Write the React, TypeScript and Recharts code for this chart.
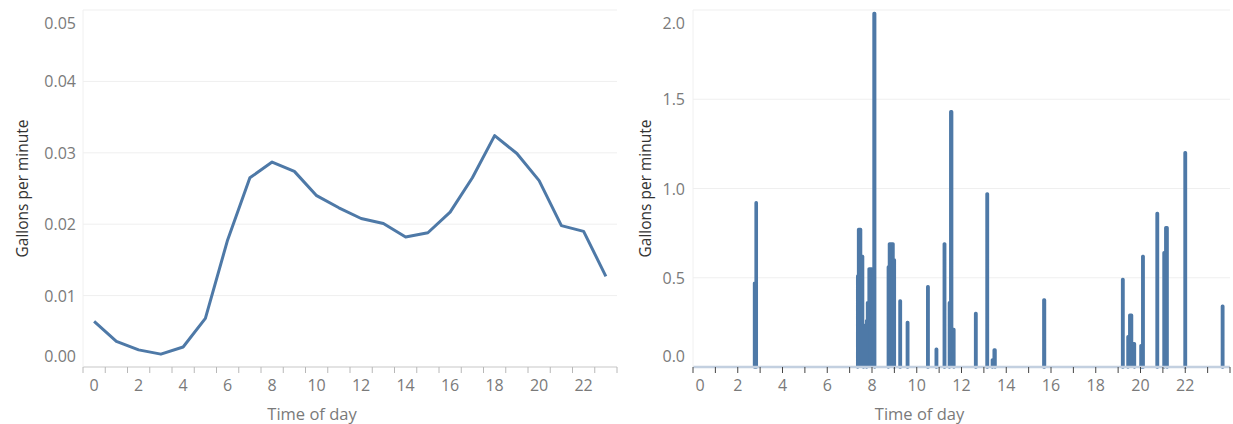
import React from "react";
import { LineChart, Line, AreaChart, Area, XAxis, YAxis, CartesianGrid } from "recharts";

// left panel: average flow per hour of day
const hours = [0, 1, 2, 3, 4, 5, 6, 7, 8, 9, 10, 11, 12, 13, 14, 15, 16, 17, 18, 19, 20, 21, 22, 23];
const avgFlow = [
  0.0064, 0.0036, 0.0024, 0.0018, 0.0028, 0.0068, 0.0178, 0.0265, 0.0287, 0.0274, 0.024, 0.0223,
  0.0208, 0.0201, 0.0182, 0.0188, 0.0217, 0.0265, 0.0324, 0.0299, 0.0261, 0.0198, 0.019, 0.0127,
];
const hourBounds = [
  -0.5, 0.5, 1.5, 2.5, 3.5, 4.5, 5.5, 6.5, 7.5, 8.5, 9.5, 10.5, 11.5, 12.5, 13.5, 14.5, 15.5, 16.5,
  17.5, 18.5, 19.5, 20.5, 21.5, 22.5, 23.5,
];
const hourLabels = [0, 2, 4, 6, 8, 10, 12, 14, 16, 18, 20, 22];
const avgTicks = [0, 0.01, 0.02, 0.03, 0.04, 0.05];

// right panel: flow bursts over one day, each burst is [time (h), level] steps ending at 0
const flowBursts = [
  [[2.75, 0.47], [2.82, 0.92], [2.83, 0]],
  [[7.36, 0.51], [7.4, 0.77], [7.49, 0.62], [7.58, 0.235], [7.62, 0]],
  [[7.76, 0.26], [7.8, 0.36], [7.87, 0.55], [7.99, 0.22], [8.09, 1.98], [8.12, 0]],
  [[8.73, 0.56], [8.78, 0.69], [8.94, 0.6], [9.0, 0]],
  [[9.25, 0.37], [9.27, 0]],
  [[9.58, 0.25], [9.6, 0]],
  [[10.49, 0.45], [10.51, 0]],
  [[10.87, 0.1], [10.89, 0]],
  [[11.23, 0.69], [11.25, 0]],
  [[11.46, 0.36], [11.52, 1.43], [11.56, 0.21], [11.66, 0]],
  [[12.63, 0.3], [12.65, 0]],
  [[13.14, 0.97], [13.16, 0]],
  [[13.38, 0.04], [13.46, 0.095], [13.5, 0]],
  [[15.68, 0.375], [15.71, 0]],
  [[19.2, 0.49], [19.22, 0]],
  [[19.44, 0.17], [19.52, 0.29], [19.6, 0.13], [19.73, 0]],
  [[20.02, 0.12], [20.1, 0.62], [20.12, 0]],
  [[20.74, 0.86], [20.76, 0]],
  [[21.05, 0.64], [21.13, 0.78], [21.19, 0]],
  [[21.99, 1.2], [22.01, 0]],
  [[23.66, 0.34], [23.68, 0]],
];
const dayTicks = [0, 1, 2, 3, 4, 5, 6, 7, 8, 9, 10, 11, 12, 13, 14, 15, 16, 17, 18, 19, 20, 21, 22, 23, 24];
const flowTicks = [0, 0.5, 1.0, 1.5, 2.0];

const BLUE = "#4e79a7";
const TICK_COLOR = "#7a7a7a";
const FONT = "'Open Sans', sans-serif";

const avgData = hours.map((h, i) => ({ hour: h, flow: avgFlow[i] }));

const burstData: { t: number; v: number | null }[] = [];
flowBursts.forEach((burst) => {
  let prev = 0;
  burst.forEach(([t, level]) => {
    burstData.push({ t, v: prev });
    burstData.push({ t, v: level });
    prev = level;
  });
  burstData.push({ t: burst[burst.length - 1][0], v: null });
});

const leftXTicks = [...hourBounds, ...hourLabels].sort((a, b) => a - b);

const LeftXTick = (props: any) => {
  const { x, y, payload } = props;
  const v = payload.value;
  if (!Number.isInteger(v)) {
    return <line x1={x} x2={x} y1={y} y2={y + 6} stroke="#b8b8b8" strokeWidth={1} />;
  }
  if (v % 2 !== 0) return <g />;
  return (
    <text x={x} y={y + 18} textAnchor="middle" dominantBaseline="central" fill={TICK_COLOR} fontSize={16}>
      {v}
    </text>
  );
};

const RightXTick = (props: any) => {
  const { x, y, payload } = props;
  const v = payload.value;
  return (
    <g>
      <line x1={x} x2={x} y1={y} y2={y + 6} stroke="#444" strokeWidth={1} />
      {v % 2 === 0 && v < 24 ? (
        <text x={v === 0 ? x + 7 : x} y={y + 18} textAnchor="middle" dominantBaseline="central" fill={TICK_COLOR} fontSize={16}>
          {v}
        </text>
      ) : null}
    </g>
  );
};

const makeYTick = (max: number, digits: number) => (props: any) => {
  const { x, y, payload } = props;
  const v = payload.value;
  const dy = v === max ? 13 : v === 0 ? -11 : 0;
  return (
    <text x={x} y={y + dy} textAnchor="end" dominantBaseline="central" fill={TICK_COLOR} fontSize={16}>
      {v.toFixed(digits)}
    </text>
  );
};

const yTitle = (offset: number) => ({
  value: "Gallons per minute",
  angle: -90,
  position: "insideLeft" as const,
  offset,
  style: { textAnchor: "middle", fill: "#333", fontSize: 15.5 },
});

const xTitle = (dx: number) => ({
  value: "Time of day",
  position: "insideBottom" as const,
  offset: 4,
  dx,
  style: { fill: TICK_COLOR, fontSize: 16.5 },
});

export default function App() {
  return (
    <div style={{ position: "absolute", left: 0, top: 0, width: 1233, height: 424, fontFamily: FONT, background: "#fff" }}>
      <div style={{ position: "absolute", left: 0, top: 0 }}>
        <LineChart width={620} height={424} data={avgData} margin={{ top: 10, right: 3, left: 0, bottom: 0 }}>
          <CartesianGrid vertical={false} stroke="#efefef" />
          <XAxis
            dataKey="hour"
            type="number"
            domain={[-0.5, 23.5]}
            ticks={leftXTicks}
            interval={0}
            height={57}
            tickSize={0}
            tickMargin={0}
            tickLine={false}
            tick={LeftXTick}
            axisLine={{ stroke: "#cfcfcf" }}
            label={xTitle(-38)}
          />
          <YAxis
            domain={[0, 0.05]}
            ticks={avgTicks}
            width={83}
            tickSize={0}
            tickMargin={7}
            tickLine={false}
            axisLine={{ stroke: "#f0f0f0" }}
            tick={makeYTick(0.05, 2)}
            label={yTitle(22)}
          />
          <Line type="linear" dataKey="flow" stroke={BLUE} strokeWidth={3} dot={false} strokeLinejoin="round" isAnimationActive={false} />
        </LineChart>
      </div>
      <div style={{ position: "absolute", left: 618, top: 0 }}>
        <AreaChart width={615} height={424} data={burstData} margin={{ top: 10, right: 3, left: 0, bottom: 0 }}>
          <CartesianGrid vertical={false} stroke="#efefef" />
          <XAxis
            dataKey="t"
            type="number"
            domain={[0, 24]}
            ticks={dayTicks}
            interval={0}
            height={57}
            tickSize={0}
            tickMargin={0}
            tickLine={false}
            tick={RightXTick}
            axisLine={{ stroke: "#c3d0e0", strokeWidth: 2.5 }}
            label={xTitle(-42)}
          />
          <YAxis
            domain={[0, 2]}
            ticks={flowTicks}
            width={75}
            tickSize={0}
            tickMargin={8}
            tickLine={false}
            axisLine={{ stroke: "#f0f0f0" }}
            tick={makeYTick(2, 1)}
            label={yTitle(27)}
          />
          <Area
            type="linear"
            dataKey="v"
            stroke={BLUE}
            strokeWidth={3.4}
            strokeLinejoin="round"
            strokeLinecap="round"
            fill={BLUE}
            fillOpacity={1}
            dot={false}
            activeDot={false}
            connectNulls={false}
            isAnimationActive={false}
          />
        </AreaChart>
      </div>
    </div>
  );
}
